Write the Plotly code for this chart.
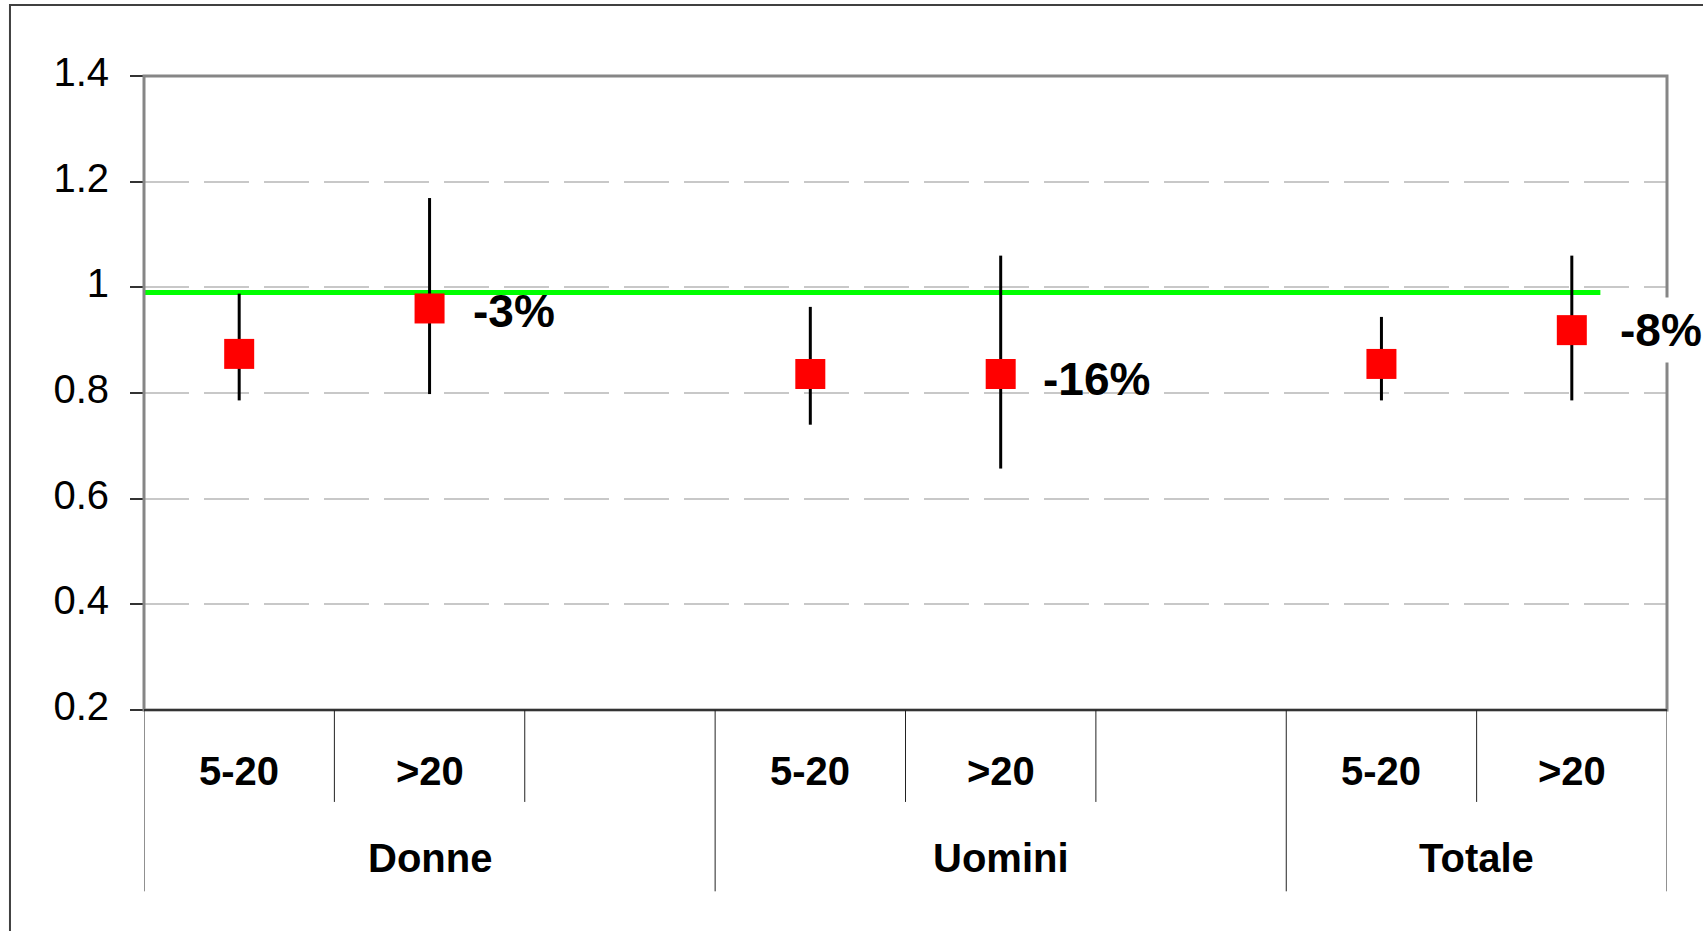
import plotly.graph_objects as go

# ---- data ----
categories = ["5-20", ">20", "", "5-20", ">20", "", "5-20", ">20"]
groups = ["Donne", "Uomini", "Totale"]
group_spans = [(0, 2), (3, 5), (6, 7)]  # slot index ranges
point = [0.874, 0.960, None, 0.836, 0.836, None, 0.855, 0.919]
lower = [0.786, 0.798, None, 0.740, 0.657, None, 0.786, 0.786]
upper = [0.988, 1.169, None, 0.963, 1.060, None, 0.944, 1.060]
ref_value = 0.99
ref_x_end = 7.15
change_labels = {1: "-3%", 4: "-16%", 7: "-8%"}
y_ticks = [0.2, 0.4, 0.6, 0.8, 1.0, 1.2, 1.4]
y_ticktext = ["0.2", "0.4", "0.6", "0.8", "1", "1.2", "1.4"]

FONT = "Liberation Sans, Arial, sans-serif"

xs = [i for i, v in enumerate(point) if v is not None]
ys = [point[i] for i in xs]
eplus = [upper[i] - point[i] for i in xs]
eminus = [point[i] - lower[i] for i in xs]

fig = go.Figure()

# reference line (below points)
fig.add_trace(go.Scatter(
    x=[-0.5, ref_x_end], y=[ref_value, ref_value], mode="lines",
    line=dict(color="#00ff00", width=5), hoverinfo="skip", showlegend=False,
    cliponaxis=False,
))

fig.add_trace(go.Scatter(
    x=xs, y=ys, mode="markers",
    marker=dict(symbol="square", size=30, color="#ff0000", line=dict(width=0)),
    error_y=dict(type="data", symmetric=False, array=eplus, arrayminus=eminus,
                 color="black", thickness=3, width=0),
    showlegend=False,
))

shapes = []
# plot border (gray)
shapes.append(dict(type="rect", xref="paper", yref="paper", x0=0, x1=1, y0=0, y1=1,
                   line=dict(color="#868686", width=3), layer="above"))
# bottom axis darker
shapes.append(dict(type="line", xref="paper", yref="paper", x0=0, x1=1, y0=0, y1=0,
                   line=dict(color="#333333", width=2), layer="above"))
# outer chart frame (clipped at right/bottom)
shapes.append(dict(type="rect", xref="paper", yref="paper", x0=-0.088, x1=1.03,
                   y0=-0.37, y1=1.112, line=dict(color="#404040", width=2), layer="below"))

# category divider lines below axis
group_bounds = set()
for a, b in group_spans:
    group_bounds.add(a - 0.5)
    group_bounds.add(b + 0.5)
for k in range(len(categories) + 1):
    xb = k - 0.5
    y_end = -0.286 if xb in group_bounds else -0.145
    shapes.append(dict(type="line", xref="x", yref="paper", x0=xb, x1=xb, y0=0, y1=y_end,
                       line=dict(color="#222222", width=1)))

annotations = []
for i, c in enumerate(categories):
    if c:
        annotations.append(dict(x=i, y=-0.096, xref="x", yref="paper", text="<b>%s</b>" % c,
                                showarrow=False, font=dict(family=FONT, size=40, color="black"),
                                xanchor="center", yanchor="middle"))
for g, (a, b) in zip(groups, group_spans):
    annotations.append(dict(x=(a + b) / 2, y=-0.233, xref="x", yref="paper", text="<b>%s</b>" % g,
                            showarrow=False, font=dict(family=FONT, size=40, color="black"),
                            xanchor="center", yanchor="middle"))

shifts = {1: (36, -3), 4: (35, -5), 7: (41, 0)}
for i, lab in change_labels.items():
    dx, dy = shifts[i]
    annotations.append(dict(x=i, y=point[i], xref="x", yref="y", text="<b>%s</b>" % lab,
                            showarrow=False, font=dict(family=FONT, size=46, color="black"),
                            xanchor="left", yanchor="middle", xshift=dx, yshift=dy,
                            bgcolor="white" if i == 7 else "rgba(0,0,0,0)", borderpad=6))

fig.update_layout(
    width=1703, height=931,
    margin=dict(l=144, r=36, t=76, b=221),
    paper_bgcolor="white", plot_bgcolor="white",
    font=dict(family=FONT, color="black"),
    shapes=shapes, annotations=annotations,
    xaxis=dict(range=[-0.5, 7.5], showticklabels=False, showgrid=False, zeroline=False,
               ticks="", fixedrange=True),
    yaxis=dict(range=[0.2, 1.4], tickvals=y_ticks, ticktext=y_ticktext,
               showgrid=True, gridcolor="#c8c8c8", gridwidth=2, griddash="45px,15px",
               zeroline=False, ticks="outside", ticklen=13, tickwidth=2, tickcolor="#333333",
               tickfont=dict(family=FONT, size=40, color="black"), ticklabelstandoff=13,
               ticklabelshift=-4, showline=False),
)

fig.write_html(
    "out.html",
    config={"displayModeBar": False},
    post_script="document.body.style.margin='0';document.body.style.overflow='hidden';",
)
